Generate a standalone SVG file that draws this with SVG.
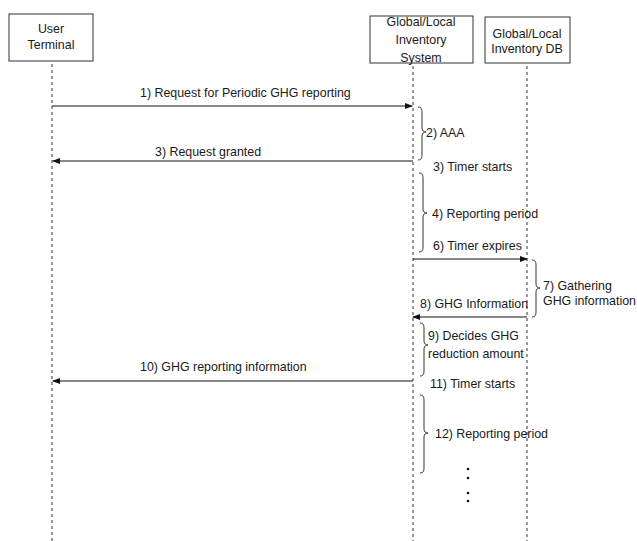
<svg xmlns="http://www.w3.org/2000/svg" width="637" height="541" viewBox="0 0 637 541">
<defs>
<marker id="ah" markerWidth="8" markerHeight="6" refX="7" refY="3" orient="auto" markerUnits="userSpaceOnUse">
<path d="M0,0 L8,3 L0,6 Z" fill="#111"/>
</marker>
<style>
text{font-family:"Liberation Sans",Arial,sans-serif;font-size:12.4px;fill:#1a1a1a}
.box{fill:#fff;stroke:#333;stroke-width:1}
.life{stroke:#333;stroke-width:1;stroke-dasharray:3,3;fill:none}
.msg{stroke:#111;stroke-width:1.2;fill:none;marker-end:url(#ah)}
.brace{stroke:#333;stroke-width:1;fill:none}
.mid{text-anchor:middle}
</style>
</defs>
<rect width="637" height="541" fill="#fff"/>
<g id="user-terminal">
<rect class="box" x="9" y="14" width="84" height="47"/>
<text class="mid" x="51" y="33">User</text>
<text class="mid" x="51" y="49">Terminal</text>
<line class="life" x1="52" y1="64" x2="52" y2="541"/>
</g>
<g id="inventory-system">
<rect class="box" x="370" y="16" width="103" height="47"/>
<text class="mid" x="421" y="26">Global/Local</text>
<text class="mid" x="421" y="44">Inventory</text>
<text class="mid" x="421" y="62">System</text>
<line class="life" x1="413" y1="66" x2="413" y2="541"/>
</g>
<g id="inventory-db">
<rect class="box" x="485" y="17" width="85" height="46"/>
<text class="mid" x="527" y="38">Global/Local</text>
<text class="mid" x="527" y="53">Inventory DB</text>
<line class="life" x1="527" y1="66" x2="527" y2="541"/>
</g>
<g id="connectors">
<line class="msg" x1="52" y1="106" x2="412" y2="106"/>
<line class="msg" x1="413" y1="161" x2="53" y2="161"/>
<line class="msg" x1="413" y1="259" x2="527" y2="259"/>
<line class="msg" x1="527" y1="317" x2="413" y2="317"/>
<line class="msg" x1="413" y1="381" x2="53" y2="381"/>
</g>
<g id="braces">
<path class="brace" d="M418,107 C422,107 422,110 422,113 L422,128 C422,131 424,132 426,132 C424,132 422,133 422,136 L422,154 C422,157 422,160 418,160"/>
<path class="brace" d="M419,173 C423,173 423,176 423,179 L423,209 C423,212 425,213 427,213 C425,213 423,214 423,217 L423,246 C423,249 423,252 419,252"/>
<path class="brace" d="M532,260 C536,260 536,263 536,266 L536,284 C536,287 538,288 540,288 C538,288 536,289 536,292 L536,311 C536,314 536,317 532,317"/>
<path class="brace" d="M420,323 C424,323 424,326 424,329 L424,341 C424,344 426,345 428,345 C426,345 424,346 424,349 L424,370 C424,373 424,376 420,376"/>
<path class="brace" d="M420,395 C424,395 424,398 424,401 L424,429 C424,432 426,433 428,433 C426,433 424,434 424,437 L424,467 C424,470 424,473 420,473"/>
</g>
<g id="labels">
<text x="140" y="97">1) Request for Periodic GHG reporting</text>
<text x="426" y="137">2) AAA</text>
<text x="155" y="156">3) Request granted</text>
<text x="433" y="171">3) Timer starts</text>
<text x="432" y="218">4) Reporting period</text>
<text x="433" y="250">6) Timer expires</text>
<text x="543" y="290">7) Gathering</text>
<text x="543" y="305">GHG information</text>
<text x="420" y="308">8) GHG Information</text>
<text x="428" y="340">9) Decides GHG</text>
<text x="428" y="358">reduction amount</text>
<text x="140" y="371">10) GHG reporting information</text>
<text x="430" y="388">11) Timer starts</text>
<text x="435" y="438">12) Reporting period</text>
</g>
<g id="dots" fill="#111">
<circle cx="468" cy="469" r="1.3"/>
<circle cx="468" cy="478" r="1.3"/>
<circle cx="468" cy="493" r="1.3"/>
<circle cx="468" cy="501" r="1.3"/>
</g>
</svg>
